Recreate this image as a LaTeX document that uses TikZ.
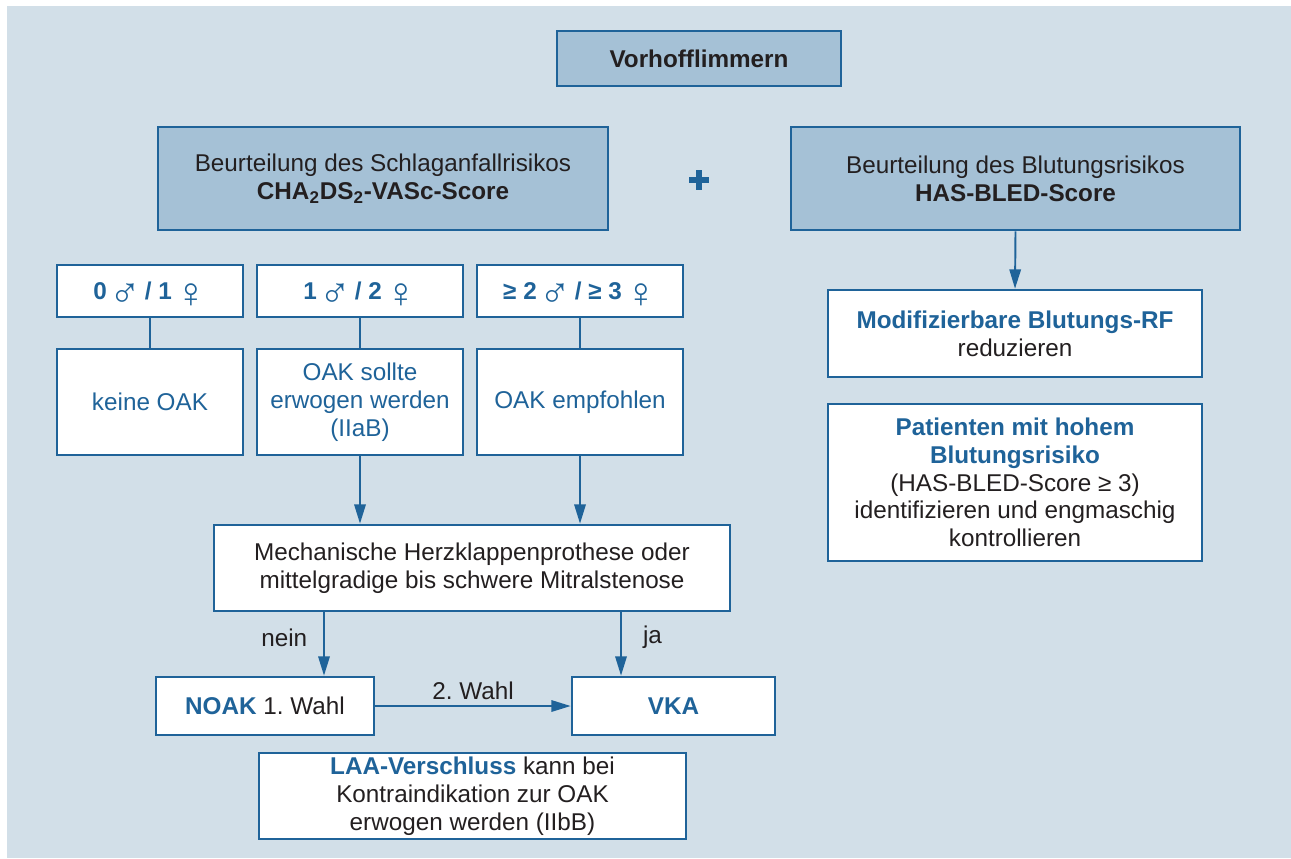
\documentclass[tikz,border=0pt]{standalone}
\usepackage{fontspec}
\setmainfont{Liberation Sans}
\usetikzlibrary{arrows.meta}
\definecolor{bgc}{HTML}{D2DFE8}
\definecolor{hdr}{HTML}{A5C1D6}
\definecolor{bdr}{HTML}{1F6399}
\definecolor{txt}{HTML}{231F20}
\newcommand\pxu{0.5686pt}
\newcommand\bl[1]{\textcolor{bdr}{\textbf{#1}}}
\newcommand\mars{\kern-2pt\smash{\raisebox{-4.5pt}{\mdseries\fontsize{24}{24}\selectfont ♂}}\kern-2pt}
\newcommand\venus{\kern-2pt\smash{\raisebox{-4.5pt}{\mdseries\fontsize{24}{24}\selectfont ♀}}}
\frenchspacing
\begin{document}
\begin{tikzpicture}[x=0.5686pt, y=-0.5686pt,
  base/.style={draw=bdr, line width=1.5pt, inner sep=0pt, align=center,
    font=\fontsize{13.8}{15.8}\selectfont, text=txt},
  hbox/.style={base, fill=hdr},
  wbox/.style={base, fill=white},
  wblue/.style={wbox, text=bdr},
  sz/.style 2 args={minimum width=#1*\pxu, minimum height=#2*\pxu},
  conn/.style={draw=bdr, line width=1.1pt},
  arr/.style={conn, -{Triangle[length=11pt,width=6.5pt]}},
  lbl/.style={font=\fontsize{13.8}{15.8}\selectfont, text=txt, inner sep=0pt}]
\fill[white] (0,0) rectangle (1291,858);
\fill[bgc] (7,6) rectangle (1291,858);
\useasboundingbox (0,0) rectangle (1291,858);

\node[hbox, sz={284}{55}] (vf) at (699,58.5) {\textbf{Vorhofflimmern}};
\node[hbox, sz={450}{103}] (lh) at (383,178.5) {Beurteilung des Schlaganfallrisikos\\\textbf{CHA\textsubscript{2}DS\textsubscript{2}-VASc-Score}};
\node[hbox, sz={449}{103}] (rh) at (1015.5,178.5) {Beurteilung des Blutungsrisikos\\\textbf{HAS-BLED-Score}};
\draw[bdr, line width=3.4pt] (689,180) -- (709,180) (699,170) -- (699,190);

\node[wbox, sz={186}{52}] (s1) at (150,291) {\bl{0 \mars{} / 1 \venus}};
\node[wbox, sz={206}{52}] (s2) at (360,291) {\bl{1 \mars{} / 2 \venus}};
\node[wbox, sz={206}{52}] (s3) at (580,291) {\bl{≥ 2 \mars{} / ≥ 3 \venus}};

\node[wblue, sz={186}{106}] (r1) at (150,402) {keine OAK};
\node[wblue, sz={206}{106}] (r2) at (360,402) {OAK sollte\\erwogen werden\\(IIaB)};
\node[wblue, sz={206}{106}] (r3) at (580,402) {OAK empfohlen};

\draw[conn] (s1.south) -- (r1.north);
\draw[conn] (s2.south) -- (r2.north);
\draw[conn] (s3.south) -- (r3.north);

\node[wbox, sz={516}{86}] (mech) at (472,568) {Mechanische Herzklappenprothese oder\\mittelgradige bis schwere Mitralstenose};
\draw[arr] (r2.south) -- (mech.north -| r2.south);
\draw[arr] (r3.south) -- (mech.north -| r3.south);

\node[wbox, sz={218}{58}] (noak) at (265,706) {\bl{NOAK} 1. Wahl};
\node[wbox, sz={203}{58}] (vka) at (673.5,706) {\bl{VKA}};
\draw[arr] (mech.south -| 324,0) -- (noak.north -| 324,0) node[lbl, pos=0.4, left=9pt] {nein};
\draw[arr] (mech.south -| 621,0) -- (vka.north -| 621,0) node[lbl, pos=0.4, right=12pt] {ja};
\draw[arr] (noak.east) -- (vka.west) node[lbl, midway, above=3pt] {2. Wahl};

\node[wbox, sz={427}{86}] (laa) at (472.5,796) {\bl{LAA-Verschluss} kann bei\\Kontraindikation zur OAK\\erwogen werden (IIbB)};

\node[wbox, sz={374}{87}] (modif) at (1015,333.5) {\bl{Modifizierbare Blutungs-RF}\\reduzieren};
\node[wbox, sz={374}{157}] (pat) at (1015,482.5) {\bl{Patienten mit hohem}\\\bl{Blutungsrisiko}\\(HAS-BLED-Score ≥ 3)\\identifizieren und engmaschig\\kontrollieren};
\draw[arr] (rh.south) -- (modif.north);
\end{tikzpicture}
\end{document}
